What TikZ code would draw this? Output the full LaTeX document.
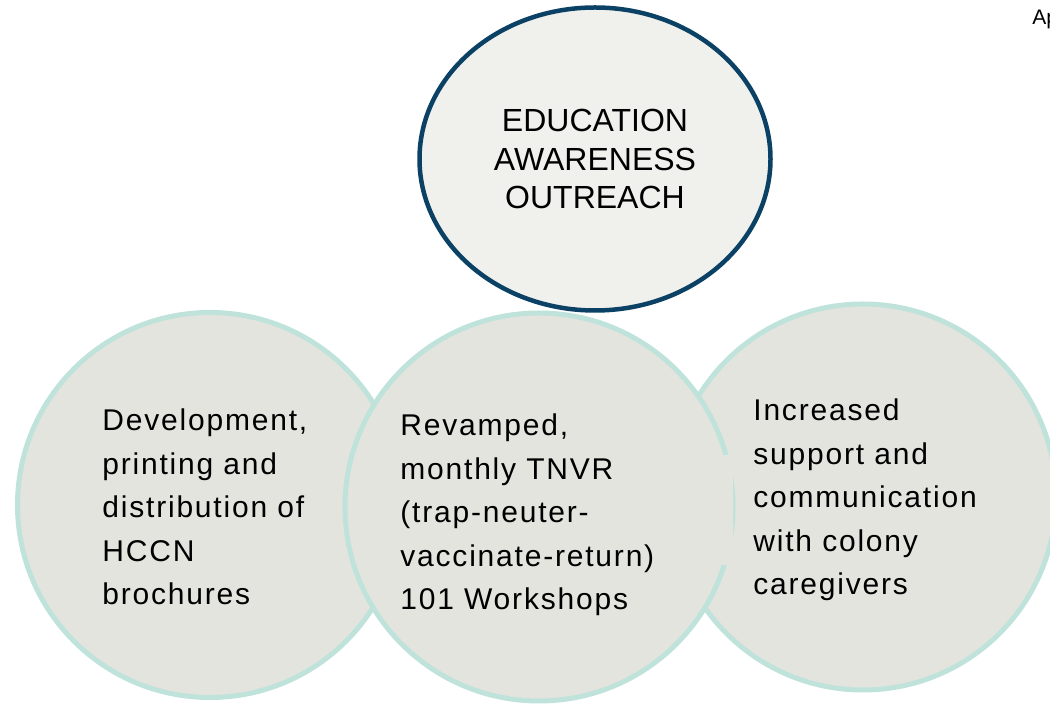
\documentclass[tikz,border=0pt]{standalone}
\usepackage{fontspec}
\setmainfont{Liberation Sans}
\usetikzlibrary{shapes.geometric}
\definecolor{ringteal}{HTML}{BFE3DB}
\definecolor{discgray}{HTML}{E4E4DF}
\definecolor{hubblue}{HTML}{0C4166}
\definecolor{hubfill}{HTML}{F0F1EC}

\begin{document}
\begin{tikzpicture}[x=0.5pt,y=-0.5pt,
  disc/.style={circle, draw=ringteal, line width=2.5pt, fill=discgray, inner sep=0pt, minimum size=#1},
  disctext/.style={anchor=base west, align=left, inner sep=0pt,
    font=\fontsize{15}{21.75}\selectfont\addfontfeatures{LetterSpace=6}},
  hub/.style={ellipse, draw=hubblue, line width=2.25pt, fill=hubfill, inner sep=0pt,
    minimum width=175.5pt, minimum height=151.5pt, align=center,
    font=\fontsize{16}{19.25}\selectfont}]

  % Page frame
  \useasboundingbox (0,0) rectangle (1050,704);

  % Lower discs, the middle one on top
  \node[disc=192.5pt] (dev) at (210,505) {};
  \node[disc=193pt] (supp) at (863,497) {};
  \node[disc=194pt] (tnvr) at (539,507) {};

  % Gap in the middle ring
  \fill[discgray] (715,455) rectangle (733,565);

  % Top ellipse
  \node[hub] (edu) at (595,159) {EDUCATION\\AWARENESS\\OUTREACH};

  % Disc texts (placed by the baseline of their last line)
  \node[disctext] (devtext) at (102,605)
    {Development,\\printing and\\distribution of\\HCCN\\brochures};
  \node[disctext] (tnvrtext) at (400,610)
    {Revamped,\\monthly TNVR\\(trap-neuter-\\vaccinate-return)\\101 Workshops};
  \node[disctext] (supptext) at (753,595)
    {Increased\\support and\\communication\\with colony\\caregivers};

  % Corner text
  \node[anchor=base west, inner sep=0pt, font=\fontsize{10.5}{12}\selectfont] (corner) at (1032,25) {Ap};
\end{tikzpicture}
\end{document}
